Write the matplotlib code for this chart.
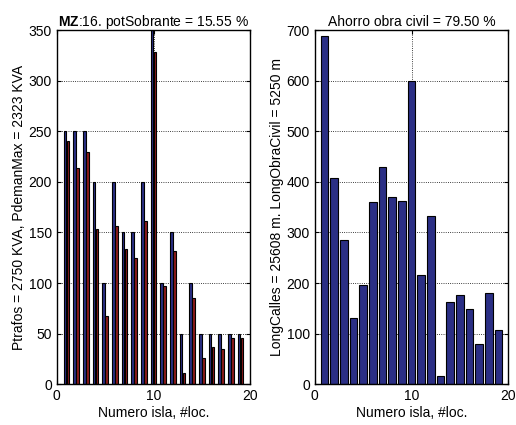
import numpy as np
import matplotlib
matplotlib.use("Agg")
import matplotlib.pyplot as plt

plt.rcParams["font.family"] = ["Liberation Sans", "DejaVu Sans"]
plt.rcParams["mathtext.fontset"] = "custom"
plt.rcParams["mathtext.bf"] = "Liberation Sans:bold"
plt.rcParams["mathtext.rm"] = "Liberation Sans"

# island numbers
islas = np.arange(1, 20)

# transformer power per island (KVA) and max demand (KVA)
ptrafos = [250, 250, 250, 200, 100, 200, 150, 150, 200, 350,
           100, 150, 50, 100, 50, 50, 50, 50, 50]
pdemanda = [240, 214, 230, 153, 67, 156, 134, 125, 161, 328,
            97, 132, 11, 85, 26, 37, 35, 46, 46]

# civil works length per island (m)
long_obra = [688, 408, 286, 130, 196, 361, 430, 370, 363, 600,
             216, 332, 17, 162, 176, 148, 79, 180, 108]

BLUE = "#2b2f85"
RED = "#8b1a1a"

fig = plt.figure(figsize=(5.16, 4.25), dpi=100)
ax1 = fig.add_axes([0.110, 0.096, 0.375, 0.833])
ax2 = fig.add_axes([0.610, 0.096, 0.375, 0.833])

w = 0.28
ax1.bar(islas - 0.15, ptrafos, width=w, color=BLUE, edgecolor="black", linewidth=0.8, zorder=3)
ax1.bar(islas + 0.15, pdemanda, width=w, color=RED, edgecolor="black", linewidth=0.8, zorder=3)
ax1.set_xlim(0, 20)
ax1.set_ylim(0, 350)
ax1.set_yticks(np.arange(0, 351, 50))
ax1.set_xticks([0, 10, 20])
ax1.set_title(r"$\mathbf{MZ}$:16. potSobrante = 15.55 %", fontsize=10, pad=3)
ax1.set_ylabel("Ptrafos = 2750 KVA, PdemanMax = 2323 KVA", fontsize=10, labelpad=2)
ax1.set_xlabel("Numero isla, #loc.", fontsize=10, labelpad=2)

ax2.bar(islas, long_obra, width=0.8, color=BLUE, edgecolor="black", linewidth=0.8, zorder=3)
ax2.set_xlim(0, 20)
ax2.set_ylim(0, 700)
ax2.set_yticks(np.arange(0, 701, 100))
ax2.set_xticks([0, 10, 20])
ax2.set_title("Ahorro obra civil = 79.50 %", fontsize=10, pad=3)
ax2.set_ylabel("LongCalles = 25608 m. LongObraCivil = 5250 m", fontsize=10, labelpad=2)
ax2.set_xlabel("Numero isla, #loc.", fontsize=10, labelpad=2)

for ax in (ax1, ax2):
    ax.grid(True, color="black", linestyle=":", linewidth=0.6, zorder=0)
    ax.tick_params(direction="in", top=True, right=True, labelsize=10, length=3)
    for s in ax.spines.values():
        s.set_linewidth(1.0)
        s.set_zorder(4)

fig.savefig("out.png", dpi=100)
